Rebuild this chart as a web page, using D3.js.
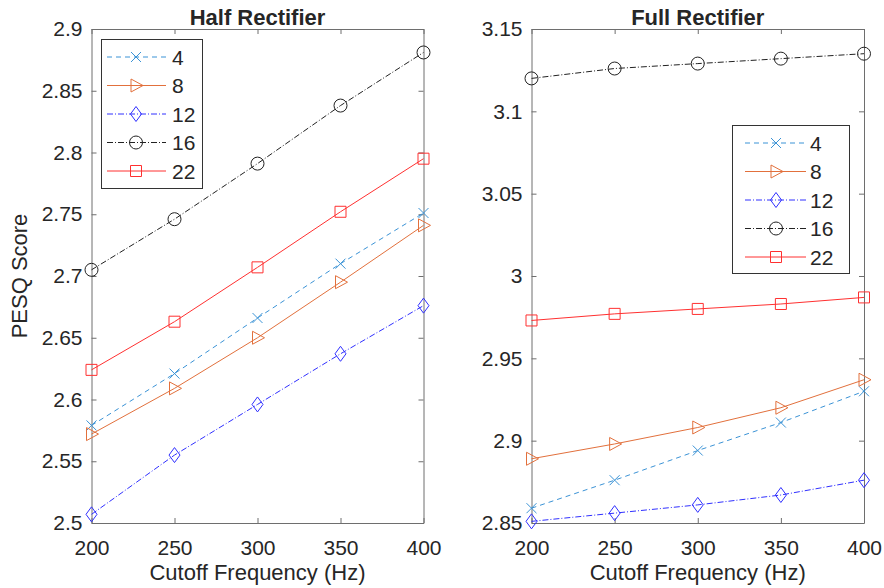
<!DOCTYPE html>
<html>
<head>
<meta charset="utf-8">
<script src="https://cdn.jsdelivr.net/npm/d3@7"></script>
<style>
  body { margin: 0; background: #fff; }
  text { font-family: "Liberation Sans", Arial, sans-serif; fill: #262626; }
</style>
</head>
<body>
<div id="container"></div>
<script>
let w = 884;
let h = 588;

// data
let freqs = [200, 250, 300, 350, 400];
let seriesNames = ["4", "8", "12", "16", "22"];

let half4  = [2.579, 2.621, 2.666, 2.710, 2.751];
let half8  = [2.572, 2.609, 2.650, 2.695, 2.741];
let half12 = [2.507, 2.555, 2.596, 2.637, 2.676];
let half16 = [2.705, 2.746, 2.791, 2.838, 2.881];
let half22 = [2.624, 2.663, 2.707, 2.752, 2.795];

let full4  = [2.859, 2.876, 2.894, 2.911, 2.930];
let full8  = [2.889, 2.898, 2.908, 2.920, 2.937];
let full12 = [2.851, 2.856, 2.861, 2.867, 2.876];
let full16 = [3.120, 3.126, 3.129, 3.132, 3.135];
let full22 = [2.973, 2.977, 2.980, 2.983, 2.987];

let halfTicks = [2.5, 2.55, 2.6, 2.65, 2.7, 2.75, 2.8, 2.85, 2.9];
let fullTicks = [2.85, 2.9, 2.95, 3, 3.05, 3.1, 3.15];

// styles per series
let colors = ["#3b93d6", "#e2703c", "#3030ff", "#222222", "#ff3030"];
let dashes = ["5,4", null, "6,2,1,2", "6,2,1,2", null];
let markers = ["x", "tri", "diamond", "circle", "square"];

function markerPath(type) {
  if (type == "x") return "M-5,-5L5,5M-5,5L5,-5";
  if (type == "tri") return "M-5,-6.5L7,0L-5,6.5Z";
  if (type == "diamond") return "M0,-7.5L5.5,0L0,7.5L-5.5,0Z";
  if (type == "square") return "M-5.5,-5.5H5.5V5.5H-5.5Z";
  // circle
  return "M6.5,0A6.5,6.5 0 1,1 -6.5,0A6.5,6.5 0 1,1 6.5,0Z";
}

let viz = d3.select("#container").append("svg")
  .attr("width", w)
  .attr("height", h);

let panels = [
  {
    title: "Half Rectifier",
    x0: 91.5, x1: 423.5,
    domain: [2.5, 2.9], ticks: halfTicks,
    values: [half4, half8, half12, half16, half22],
    legend: { x: 101.5, y: 39.5, w: 101, h: 149, lx0: 107, lx1: 166, mx: 136, tx: 172, y0: 57, step: 28.5 },
    ylabel: true
  },
  {
    title: "Full Rectifier",
    x0: 531.5, x1: 864,
    domain: [2.85, 3.15], ticks: fullTicks,
    values: [full4, full8, full12, full16, full22],
    legend: { x: 732.5, y: 125.5, w: 117, h: 148, lx0: 745, lx1: 806, mx: 776, tx: 810, y0: 143, step: 28.5 },
    ylabel: false
  }
];

let plotTop = 29, plotBottom = 523;

panels.forEach(function (p) {
  let x = d3.scaleLinear().domain([200, 400]).range([p.x0, p.x1]);
  let y = d3.scaleLinear().domain(p.domain).range([plotBottom, plotTop]);
  let g = viz.append("g");

  // axes on all four sides, ticks inside
  let axisColor = "#6e6e6e";
  let xb = g.append("g").attr("transform", "translate(0," + plotBottom + ")")
    .call(d3.axisBottom(x).tickValues(freqs).tickSize(-5).tickSizeOuter(0).tickPadding(17));
  let xt = g.append("g").attr("transform", "translate(0," + plotTop + ")")
    .call(d3.axisTop(x).tickValues(freqs).tickSize(-5).tickSizeOuter(0).tickFormat(""));
  let yl = g.append("g").attr("transform", "translate(" + p.x0 + ",0)")
    .call(d3.axisLeft(y).tickValues(p.ticks).tickSize(-5).tickSizeOuter(0).tickPadding(9)
      .tickFormat(d3.format("~g")));
  let yr = g.append("g").attr("transform", "translate(" + p.x1 + ",0)")
    .call(d3.axisRight(y).tickValues(p.ticks).tickSize(-5).tickSizeOuter(0).tickFormat(""));

  [xb, xt, yl, yr].forEach(function (a) {
    a.selectAll("path, line").attr("stroke", axisColor);
    a.selectAll("text").style("font-size", "21px").attr("fill", "#262626")
      .style("font-family", "'Liberation Sans', Arial, sans-serif");
  });

  // title
  g.append("text")
    .attr("x", (p.x0 + p.x1) / 2).attr("y", 25)
    .attr("text-anchor", "middle")
    .style("font-size", "22px").style("font-weight", "bold")
    .attr("fill", "#000")
    .text(p.title);

  // x label
  g.append("text")
    .attr("x", (p.x0 + p.x1) / 2).attr("y", 580)
    .attr("text-anchor", "middle")
    .style("font-size", "22px")
    .text("Cutoff Frequency (Hz)");

  if (p.ylabel) {
    g.append("text")
      .attr("transform", "translate(27," + (plotTop + plotBottom) / 2 + ") rotate(-90)")
      .attr("text-anchor", "middle")
      .style("font-size", "22px")
      .text("PESQ Score");
  }

  // lines and markers
  let line = d3.line()
    .x(function (d, i) { return x(freqs[i]); })
    .y(function (d) { return y(d); });

  p.values.forEach(function (vals, k) {
    g.append("path")
      .attr("d", line(vals))
      .attr("fill", "none")
      .attr("stroke", colors[k])
      .attr("stroke-width", 1)
      .attr("stroke-dasharray", dashes[k]);

    g.selectAll(".m" + k).data(vals).enter()
      .append("path")
      .attr("class", "m" + k)
      .attr("transform", function (d, i) { return "translate(" + x(freqs[i]) + "," + y(d) + ")"; })
      .attr("d", markerPath(markers[k]))
      .attr("fill", "none")
      .attr("stroke", colors[k])
      .attr("stroke-width", 1);
  });

  // legend
  let L = p.legend;
  let lg = g.append("g");
  lg.append("rect")
    .attr("x", L.x).attr("y", L.y).attr("width", L.w).attr("height", L.h)
    .attr("fill", "#fff").attr("stroke", "#333").attr("stroke-width", 1);

  seriesNames.forEach(function (name, k) {
    let yy = L.y0 + k * L.step;
    lg.append("line")
      .attr("x1", L.lx0).attr("x2", L.lx1).attr("y1", yy).attr("y2", yy)
      .attr("stroke", colors[k]).attr("stroke-width", 1)
      .attr("stroke-dasharray", dashes[k]);
    lg.append("path")
      .attr("transform", "translate(" + L.mx + "," + yy + ")")
      .attr("d", markerPath(markers[k]))
      .attr("fill", "none").attr("stroke", colors[k]).attr("stroke-width", 1);
    lg.append("text")
      .attr("x", L.tx).attr("y", yy).attr("dy", "0.36em")
      .style("font-size", "21px")
      .attr("fill", "#000")
      .text(name);
  });
});
</script>
</body>
</html>
